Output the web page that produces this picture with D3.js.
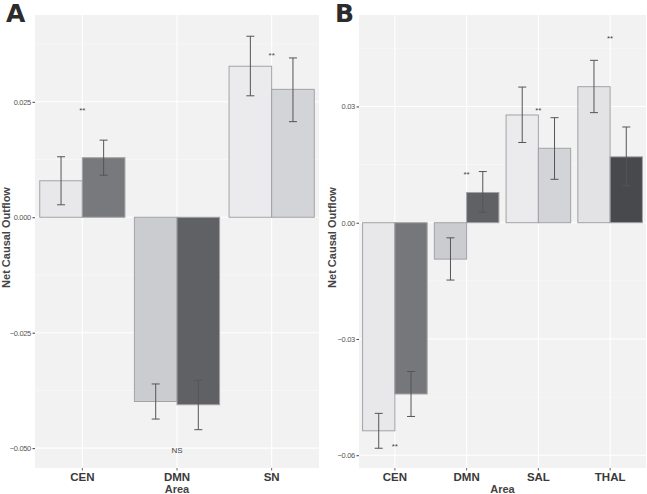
<!DOCTYPE html>
<html><head><meta charset="utf-8">
<script src="https://cdn.jsdelivr.net/npm/d3@7"></script>
<style>body{margin:0;background:#fff}svg{display:block}</style>
</head><body>
<svg id="c" width="647" height="494"></svg>
<script>
// Panel A data
const catsA = ["CEN","DMN","SN"];
const valsA1 = [0.0079, -0.0399, 0.0327];
const lowA1  = [0.0027, -0.0437, 0.0263];
const highA1 = [0.0131, -0.0361, 0.0392];
const valsA2 = [0.0129, -0.0406, 0.0277];
const lowA2  = [0.0091, -0.0460, 0.0207];
const highA2 = [0.0167, -0.0353, 0.0345];
const fillA1 = ["#e8e8ea","#cbccd0","#ebebee"];
const fillA2 = ["#78797c","#5f6165","#d3d4d8"];
const sigA = [{cat:"CEN", y:0.0232, t:"**"},{cat:"DMN", y:-0.0504, t:"NS"},{cat:"SN", y:0.0352, t:"**"}];
const ticksA = [-0.050,-0.025,0.000,0.025];

// Panel B data
const catsB = ["CEN","DMN","SAL","THAL"];
const valsB1 = [-0.0537, -0.0094, 0.0278, 0.0351];
const lowB1  = [-0.0582, -0.0148, 0.0207, 0.0284];
const highB1 = [-0.0492, -0.0039, 0.0350, 0.0419];
const valsB2 = [-0.0442, 0.0078, 0.0192, 0.0170];
const lowB2  = [-0.0500, 0.0027, 0.0112, 0.0095];
const highB2 = [-0.0384, 0.0132, 0.0271, 0.0247];
const fillB1 = ["#e8e8ea","#cbccd0","#ebebee","#e3e3e6"];
const fillB2 = ["#76777b","#5f6165","#d3d4d8","#47494c"];
const sigB = [{cat:"CEN", y:-0.0578, t:"**"},{cat:"DMN", y:0.0125, t:"**"},{cat:"SAL", y:0.0290, t:"**"},{cat:"THAL", y:0.0475, t:"**"}];
const ticksB = [-0.06,-0.03,0.00,0.03];

const svg = d3.select("#c");

function panel(o){
  const g = svg.append("g");
  const x = d3.scaleBand().domain(o.cats).range([o.x0,o.x1]).paddingInner(0.1).paddingOuter(0.05);
  const y = d3.scaleLinear().domain(o.dom).range([o.y1,o.y0]);
  g.append("rect").attr("x",o.x0).attr("y",o.y0).attr("width",o.x1-o.x0).attr("height",o.y1-o.y0).attr("fill","#f2f2f2");
  // minor grid
  const step = o.ticks[1]-o.ticks[0];
  const minor = [];
  for(let v=o.ticks[0]-step/2; v<o.dom[1]; v+=step){ if(v>o.dom[0]) minor.push(v); }
  g.selectAll(".mn").data(minor).enter().append("line")
    .attr("x1",o.x0).attr("x2",o.x1).attr("y1",d=>y(d)).attr("y2",d=>y(d))
    .attr("stroke","#fafafa").attr("stroke-width",0.6);
  g.selectAll(".mj").data(o.ticks).enter().append("line")
    .attr("x1",o.x0).attr("x2",o.x1).attr("y1",d=>y(d)).attr("y2",d=>y(d))
    .attr("stroke","#ffffff").attr("stroke-width",1.1);
  g.selectAll(".vg").data(o.cats).enter().append("line")
    .attr("x1",d=>x(d)+x.bandwidth()/2).attr("x2",d=>x(d)+x.bandwidth()/2)
    .attr("y1",o.y0).attr("y2",o.y1).attr("stroke","#ffffff").attr("stroke-width",1.1);
  const bw = x.bandwidth()/2;
  const series = [
    {v:o.v1, lo:o.l1, hi:o.h1, f:o.f1, off:0},
    {v:o.v2, lo:o.l2, hi:o.h2, f:o.f2, off:bw}
  ];
  series.forEach(s=>{
    g.selectAll(null).data(o.cats).enter().append("rect")
      .attr("x",(d)=>x(d)+s.off)
      .attr("y",(d,i)=>Math.min(y(0),y(s.v[i])))
      .attr("width",bw)
      .attr("height",(d,i)=>Math.abs(y(s.v[i])-y(0)))
      .attr("fill",(d,i)=>s.f[i]).attr("stroke","#a3a3a6").attr("stroke-width",1);
  });
  series.forEach(s=>{
    o.cats.forEach((c,i)=>{
      const cx = x(c)+s.off+bw/2;
      g.append("line").attr("x1",cx).attr("x2",cx).attr("y1",y(s.lo[i])).attr("y2",y(s.hi[i])).attr("stroke","#555").attr("stroke-width",1);
      [s.lo[i],s.hi[i]].forEach(v=>{
        g.append("line").attr("x1",cx-4).attr("x2",cx+4).attr("y1",y(v)).attr("y2",y(v)).attr("stroke","#555").attr("stroke-width",1);
      });
    });
  });
  g.selectAll(".sig").data(o.sig).enter().append("text")
    .attr("x",d=>x(d.cat)+x.bandwidth()/2).attr("y",d=>y(d.y)).attr("dy","0.35em")
    .attr("text-anchor","middle").attr("font-family","Liberation Sans, Arial, sans-serif")
    .attr("font-size",8).attr("fill","#444").text(d=>d.t);
  // y axis
  const ya = d3.axisLeft(y).tickValues(o.ticks).tickFormat(d3.format(o.fmt)).tickSize(2.5).tickPadding(1.5);
  const yg = g.append("g").attr("transform",`translate(${o.x0},0)`).call(ya);
  yg.select(".domain").remove();
  yg.selectAll("line").attr("stroke","#444");
  yg.selectAll("text").attr("font-family","Liberation Sans, Arial, sans-serif").attr("font-size",7.5).attr("letter-spacing","-0.3").attr("fill","#555");
  // x axis
  const xa = d3.axisBottom(x).tickSize(2.5).tickPadding(2.5);
  const xg = g.append("g").attr("transform",`translate(0,${o.y1})`).call(xa);
  xg.select(".domain").remove();
  xg.selectAll("line").attr("stroke","#666");
  xg.selectAll("text").attr("font-family","Liberation Sans, Arial, sans-serif").attr("font-size",11.5).attr("font-weight","bold").attr("fill","#3a3a3a");
  g.append("text").attr("x",(o.x0+o.x1)/2).attr("y",o.y1+25).attr("text-anchor","middle")
    .attr("font-family","Liberation Sans, Arial, sans-serif").attr("font-size",11).attr("font-weight","bold").attr("fill","#444").text("Area");
  g.append("text").attr("transform",`translate(${o.ytx},${(o.y0+o.y1)/2 - 4}) rotate(-90)`).attr("text-anchor","middle")
    .attr("font-family","Liberation Sans, Arial, sans-serif").attr("font-size",11).attr("font-weight","bold").attr("fill","#444").text("Net Causal Outflow");
  g.append("text").attr("x",o.lx).attr("y",22).attr("font-family","DejaVu Sans, Arial, sans-serif")
    .attr("font-size",25).attr("font-weight","bold").attr("fill","#2b2b2b").text(o.letter);
}

panel({cats:catsA, x0:35, x1:319, y0:15, y1:468, dom:[-0.0543,0.0438], ticks:ticksA, fmt:".3f",
  v1:valsA1,l1:lowA1,h1:highA1,v2:valsA2,l2:lowA2,h2:highA2,f1:fillA1,f2:fillA2,sig:sigA,
  ytx:9.5, lx:6, letter:"A"});
panel({cats:catsB, x0:359, x1:646, y0:15, y1:468, dom:[-0.0633,0.0536], ticks:ticksB, fmt:".2f",
  v1:valsB1,l1:lowB1,h1:highB1,v2:valsB2,l2:lowB2,h2:highB2,f1:fillB1,f2:fillB2,sig:sigB,
  ytx:336, lx:335, letter:"B"});
</script>
</body></html>
